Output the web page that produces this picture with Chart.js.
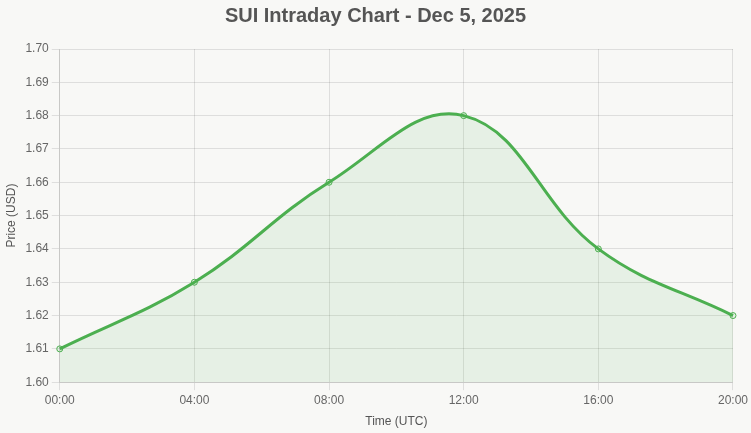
<!DOCTYPE html>
<html>
<head>
<meta charset="utf-8">
<title>SUI Intraday Chart</title>
<script src="https://cdn.jsdelivr.net/npm/chart.js@4.4.0/dist/chart.umd.min.js"></script>
<style>
  html, body { margin: 0; padding: 0; background: #f8f8f6; }
  #wrap { width: 751px; height: 433px; }
</style>
</head>
<body>
<div id="wrap"><canvas id="sui-chart"></canvas></div>
<script>
// data
const timeLabels = ["00:00", "04:00", "08:00", "12:00", "16:00", "20:00"];
const prices = [1.61, 1.63, 1.66, 1.68, 1.64, 1.62];
const chartTitle = "SUI Intraday Chart - Dec 5, 2025";

const ctx = document.getElementById("sui-chart").getContext("2d");
const suiChart = new Chart(ctx, {
  type: "line",
  data: {
    labels: timeLabels,
    datasets: [
      {
        label: "SUI Price",
        data: prices,
        borderColor: "#4caf50",
        backgroundColor: "rgba(76, 175, 80, 0.1)",
        borderWidth: 3,
        fill: true,
        tension: 0.4,
        pointRadius: 3,
        pointBorderWidth: 1,
        pointBackgroundColor: "rgba(76, 175, 80, 0.1)",
        pointBorderColor: "#4caf50",
      },
    ],
  },
  options: {
    responsive: true,
    maintainAspectRatio: false,
    animation: false,
    plugins: {
      legend: { display: false },
      title: {
        display: true,
        text: chartTitle,
        color: "#555",
        font: { size: 20, weight: "bold" },
        padding: { top: 4, bottom: 21 },
      },
    },
    scales: {
      x: {
        title: { display: true, text: "Time (UTC)", color: "#555" },
        ticks: { color: "#666" },
      },
      y: {
        min: 1.6,
        max: 1.7,
        title: { display: true, text: "Price (USD)", color: "#555" },
        ticks: {
          stepSize: 0.01,
          color: "#666",
          callback: (v) => v.toFixed(2),
        },
      },
    },
  },
});
</script>
</body>
</html>
